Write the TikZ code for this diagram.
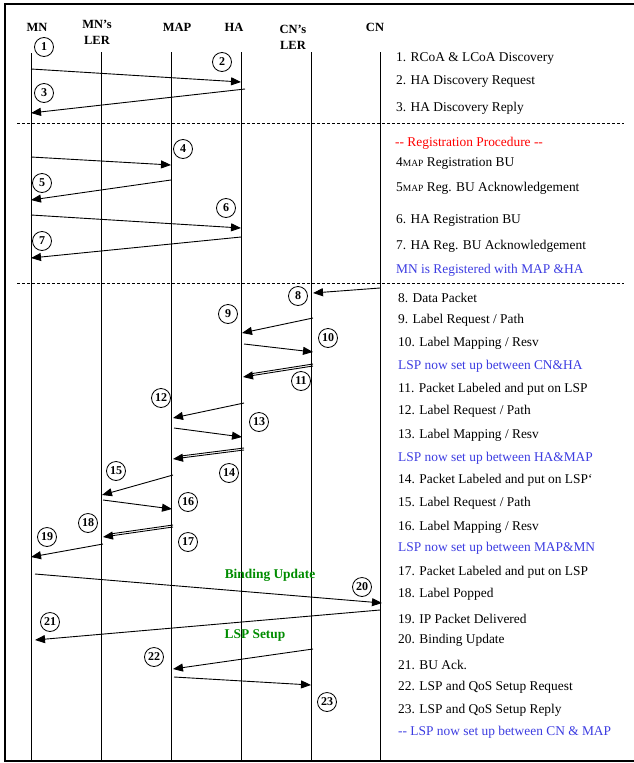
\documentclass[tikz,border=0pt]{standalone}
\usepackage{fontspec}
\setmainfont{Liberation Serif}
\usetikzlibrary{arrows.meta}

\definecolor{regred}{RGB}{255,0,0}
\definecolor{lspblue}{RGB}{60,60,225}
\definecolor{setgreen}{RGB}{0,140,0}

\begin{document}
\begin{tikzpicture}[
        x=1pt, y=-1pt,
        entity/.style={font=\fontsize{12.5}{16}\selectfont\bfseries, align=center, inner sep=0pt},
        life/.style={draw=black, line width=0.9pt},
        msg/.style={draw=black, line width=0.9pt, -{Triangle[length=10pt, width=8pt]}},
        lsp/.style={draw=black, line width=0.9pt, shorten >=9pt, transform canvas={yshift=2pt}},
        num/.style={circle, draw=black, line width=0.8pt, minimum size=19pt, inner sep=1.5pt, font=\fontsize{12}{12}\selectfont\bfseries},
        item/.style={anchor=west, inner sep=0pt, yshift=-1.5pt, font=\fontsize{13.4}{14}\selectfont},
        note/.style={item, text=lspblue},
        tag/.style={inner sep=0pt, text=setgreen, font=\fontsize{13.4}{14}\selectfont\bfseries},
        sep/.style={draw=black, line width=0.8pt, dash pattern=on 3pt off 2pt}
    ]

        \useasboundingbox (0,0) rectangle (634,763);
        \draw[line width=2pt] (634,4) -- (5,4) -- (5,761) -- (634,761);

        \node[entity] (h_mn) at (37,27) {MN};
        \node[entity, anchor=north] (h_mnler) at (97,20) {MN's\\LER};
        \node[entity] (h_map) at (177,27) {MAP};
        \node[entity] (h_ha) at (234,27) {HA};
        \node[entity, anchor=north] (h_cnler) at (293,25) {CN's\\LER};
        \node[entity] (h_cn) at (375,27) {CN};

        \coordinate (mn_top) at (31,53);     \coordinate (mn_bot) at (31,761);
        \coordinate (mnler_top) at (101,52); \coordinate (mnler_bot) at (101,761);
        \coordinate (map_top) at (171,52);   \coordinate (map_bot) at (171,761);
        \coordinate (ha_top) at (241,52);    \coordinate (ha_bot) at (241,761);
        \coordinate (cnler_top) at (311,52); \coordinate (cnler_bot) at (311,761);
        \coordinate (cn_top) at (380,52);    \coordinate (cn_bot) at (380,761);
        \draw[life] (mn_top) -- (mn_bot);
        \draw[life] (mnler_top) -- (mnler_bot);
        \draw[life] (map_top) -- (map_bot);
        \draw[life] (ha_top) -- (ha_bot);
        \draw[life] (cnler_top) -- (cnler_bot);
        \draw[life] (cn_top) -- (cn_bot);

        \coordinate (sep1_a) at (17,123); \coordinate (sep1_b) at (624,123);
        \coordinate (sep2_a) at (17,283); \coordinate (sep2_b) at (624,283);
        \draw[sep] (sep1_a) -- (sep1_b);
        \draw[sep] (sep2_a) -- (sep2_b);

        \coordinate (s2_a) at (31,69);   \coordinate (s2_b) at (241,82);
        \coordinate (s3_a) at (245,89);  \coordinate (s3_b) at (31,113);
        \draw[msg] (s2_a) -- (s2_b);
        \draw[msg] (s3_a) -- (s3_b);

        \coordinate (s4_a) at (31,157);  \coordinate (s4_b) at (171,165);
        \coordinate (s5_a) at (171,180); \coordinate (s5_b) at (31,200);
        \coordinate (s6_a) at (31,215);  \coordinate (s6_b) at (241,228);
        \coordinate (s7_a) at (241,237); \coordinate (s7_b) at (31,258);
        \draw[msg] (s4_a) -- (s4_b);
        \draw[msg] (s5_a) -- (s5_b);
        \draw[msg] (s6_a) -- (s6_b);
        \draw[msg] (s7_a) -- (s7_b);

        \coordinate (s8_a) at (380,288);  \coordinate (s8_b) at (313,293);
        \coordinate (s9_a) at (313,318);  \coordinate (s9_b) at (242,333);
        \coordinate (s10_a) at (244,344); \coordinate (s10_b) at (313,352);
        \coordinate (s11_a) at (313,366); \coordinate (s11_b) at (243,377);
        \draw[msg] (s8_a) -- (s8_b);
        \draw[msg] (s9_a) -- (s9_b);
        \draw[msg] (s10_a) -- (s10_b);
        \draw[msg] (s11_a) -- (s11_b);
        \draw[lsp] (s11_a) -- (s11_b);

        \coordinate (s12_a) at (244,403); \coordinate (s12_b) at (173,418);
        \coordinate (s13_a) at (174,428); \coordinate (s13_b) at (242,437);
        \coordinate (s14_a) at (244,450); \coordinate (s14_b) at (173,459);
        \draw[msg] (s12_a) -- (s12_b);
        \draw[msg] (s13_a) -- (s13_b);
        \draw[msg] (s14_a) -- (s14_b);
        \draw[lsp] (s14_a) -- (s14_b);

        \coordinate (s15_a) at (173,475); \coordinate (s15_b) at (102,495);
        \coordinate (s16_a) at (103,500); \coordinate (s16_b) at (172,509);
        \coordinate (s17_a) at (173,527); \coordinate (s17_b) at (103,537);
        \coordinate (s19_a) at (103,544); \coordinate (s19_b) at (31,557);
        \draw[msg] (s15_a) -- (s15_b);
        \draw[msg] (s16_a) -- (s16_b);
        \draw[msg] (s17_a) -- (s17_b);
        \draw[lsp] (s17_a) -- (s17_b);
        \draw[msg] (s19_a) -- (s19_b);

        \coordinate (s20_a) at (35,574);  \coordinate (s20_b) at (382,603);
        \coordinate (s21_a) at (380,610); \coordinate (s21_b) at (35,640);
        \coordinate (s22_a) at (313,649); \coordinate (s22_b) at (173,669);
        \coordinate (s23_a) at (174,677); \coordinate (s23_b) at (311,685);
        \draw[msg] (s20_a) -- (s20_b);
        \draw[msg] (s21_a) -- (s21_b);
        \draw[msg] (s22_a) -- (s22_b);
        \draw[msg] (s23_a) -- (s23_b);

        \node[tag] (l_bu) at (270,575) {Binding Update};
        \node[tag] (l_setup) at (255,635) {LSP Setup};

        \node[num] (c1) at (44,47) {1};
        \node[num] (c2) at (222,62) {2};
        \node[num] (c3) at (44,93) {3};
        \node[num] (c4) at (183,149) {4};
        \node[num] (c5) at (42,183) {5};
        \node[num] (c6) at (226,208) {6};
        \node[num] (c7) at (42,241) {7};
        \node[num] (c8) at (298,296) {8};
        \node[num] (c9) at (228,314) {9};
        \node[num] (c10) at (328,338) {10};
        \node[num] (c11) at (301,381) {11};
        \node[num] (c12) at (161,398) {12};
        \node[num] (c13) at (259,422) {13};
        \node[num] (c14) at (229,473) {14};
        \node[num] (c15) at (116,471) {15};
        \node[num] (c16) at (188,502) {16};
        \node[num] (c17) at (188,542) {17};
        \node[num] (c18) at (88,523) {18};
        \node[num] (c19) at (47,537) {19};
        \node[num] (c20) at (362,587) {20};
        \node[num] (c21) at (50,622) {21};
        \node[num] (c22) at (154,657) {22};
        \node[num] (c23) at (327,702) {23};

        \node[item] (t1) at (396,57) {1. RCoA \& LCoA Discovery};
        \node[item] (t2) at (396,80) {2. HA Discovery Request};
        \node[item] (t3) at (396,107) {3. HA Discovery Reply};
        \node[item, text=regred] (t_reg) at (395,142) {{-}{-} Registration Procedure {-}{-}};
        \node[item] (t4) at (396,162) {4{\fontsize{9.5}{10}\selectfont MAP} Registration BU};
        \node[item] (t5) at (396,187) {5{\fontsize{9.5}{10}\selectfont MAP} Reg. BU Acknowledgement};
        \node[item] (t6) at (396,219) {6. HA Registration BU};
        \node[item] (t7) at (396,245) {7. HA Reg. BU Acknowledgement};
        \node[note] (t_mnreg) at (396,269) {MN is Registered with MAP \&HA};
        \node[item] (t8) at (398,296) {8. Data Packet};
        \node[item] (t9) at (398,319) {9. Label Request / Path};
        \node[item] (t10) at (398,342) {10. Label Mapping / Resv};
        \node[note] (t_cnha) at (398,365) {LSP now set up between CN\&HA};
        \node[item] (t11) at (398,388) {11. Packet Labeled and put on LSP};
        \node[item] (t12) at (398,410) {12. Label Request / Path};
        \node[item] (t13) at (398,434) {13. Label Mapping / Resv};
        \node[note] (t_hamap) at (398,457) {LSP now set up between HA\&MAP};
        \node[item] (t14) at (398,479) {14. Packet Labeled and put on LSP`};
        \node[item] (t15) at (398,502) {15. Label Request / Path};
        \node[item] (t16) at (398,526) {16. Label Mapping / Resv};
        \node[note] (t_mapmn) at (398,547) {LSP now set up between MAP\&MN};
        \node[item] (t17) at (398,571) {17. Packet Labeled and put on LSP};
        \node[item] (t18) at (398,593) {18. Label Popped};
        \node[item] (t19) at (398,617) {19. IP Packet Delivered};
        \node[item] (t20) at (398,639) {20. Binding Update};
        \node[item] (t21) at (398,663) {21. BU Ack.};
        \node[item] (t22) at (398,686) {22. LSP and QoS Setup Request};
        \node[item] (t23) at (398,709) {23. LSP and QoS Setup Reply};
        \node[note] (t_cnmap) at (398,731) {{-}{-} LSP now set up between CN \& MAP};
    \end{tikzpicture}
\end{document}
